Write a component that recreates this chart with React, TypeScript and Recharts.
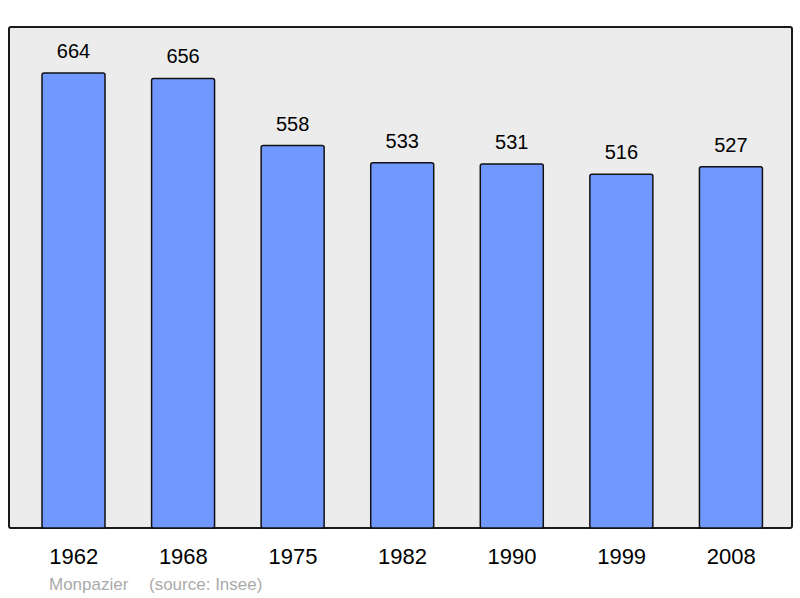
import { BarChart, Bar, XAxis, YAxis, LabelList } from 'recharts';

const years = ['1962', '1968', '1975', '1982', '1990', '1999', '2008'];
const population = [664, 656, 558, 533, 531, 516, 527];

const data = years.map((y, i) => ({ year: y, pop: population[i] }));

const FONT = '"Liberation Sans", Arial, sans-serif';

export default function App() {
  return (
    <div style={{ position: 'absolute', left: 0, top: 0, width: 800, height: 598, background: '#fff', fontFamily: FONT }}>
      {/* plot frame */}
      <div
        style={{
          position: 'absolute',
          left: 8,
          top: 26,
          width: 781,
          height: 499,
          border: '2px solid #1a1a1a',
          borderRadius: 3,
          background: '#ececec',
        }}
      />
      <div style={{ position: 'absolute', left: 0, top: 0 }}>
        <BarChart width={800} height={598} data={data} margin={{ top: 27, right: 8, bottom: 40, left: 9 }}>
          <XAxis
            dataKey="year"
            axisLine={false}
            tickLine={false}
            padding={{ left: 10, right: 6 }}
            tickMargin={14}
            tick={{ fill: '#000', fontSize: 22, fontFamily: FONT }}
            interval={0}
          />
          <YAxis hide domain={[0, 731]} />
          <Bar dataKey="pop" fill="#7098ff" stroke="#111" strokeWidth={1.5} barSize={63} radius={2} isAnimationActive={false}>
            <LabelList dataKey="pop" position="top" offset={15} style={{ fill: '#000', fontSize: 20, fontFamily: FONT }} />
          </Bar>
        </BarChart>
      </div>
      <div style={{ position: 'absolute', left: 49, top: 575, fontSize: 17, color: '#aaaaaa', whiteSpace: 'pre' }}>
        Monpazier
      </div>
      <div style={{ position: 'absolute', left: 149, top: 575, fontSize: 17, color: '#aaaaaa', whiteSpace: 'pre' }}>
        (source: Insee)
      </div>
    </div>
  );
}
